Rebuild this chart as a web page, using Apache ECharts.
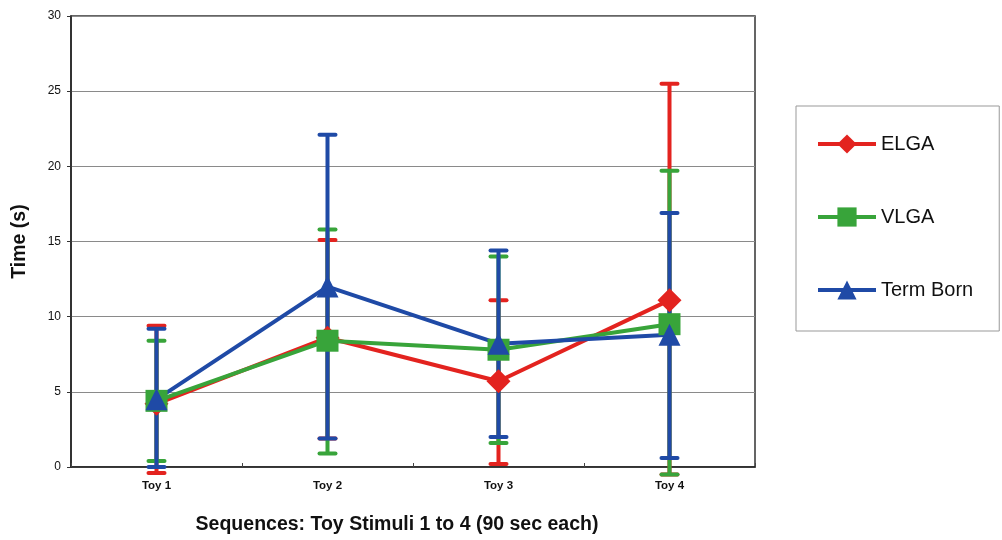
<!DOCTYPE html>
<html><head><meta charset="utf-8">
<script src="https://cdn.jsdelivr.net/npm/echarts@6/dist/echarts.min.js"></script>
<style>html,body{margin:0;padding:0;background:#fff}#c{width:1002px;height:540px}</style>
</head><body><div id="c"></div>
<script>
const categories = ['Toy 1', 'Toy 2', 'Toy 3', 'Toy 4'];
const yTicks = [0, 5, 10, 15, 20, 25, 30];
const elgaMean = [4.2, 8.6, 5.7, 11.1];
const elgaHigh = [9.4, 15.1, 11.1, 25.5];
const elgaLow = [-0.4, 1.9, 0.2, -0.5];
const vlgaMean = [4.4, 8.4, 7.8, 9.5];
const vlgaHigh = [8.4, 15.8, 14.0, 19.7];
const vlgaLow = [0.4, 0.9, 1.6, -0.5];
const termMean = [4.5, 12.0, 8.2, 8.8];
const termHigh = [9.2, 22.1, 14.4, 16.9];
const termLow = [0.0, 1.9, 2.0, 0.6];

const RED = '#e3231f', GREEN = '#38a43a', BLUE = '#1f4aa6';
const FONT = 'Liberation Sans, Arial, sans-serif';

function errSeries(name, color, lows, highs, z) {
  return {
    type: 'custom', name: name, z: z, clip: false,
    encode: { x: 0, y: [1, 2] },
    data: categories.map((c, i) => [i, lows[i], highs[i]]),
    renderItem: function (params, api) {
      const x = api.value(0);
      const lo = api.coord([x, api.value(1)]);
      const hi = api.coord([x, api.value(2)]);
      const hw = 8;
      return {
        type: 'group',
        children: [
          { type: 'line', shape: { x1: lo[0], y1: lo[1], x2: hi[0], y2: hi[1] }, style: { stroke: color, lineWidth: 4 } },
          { type: 'line', shape: { x1: hi[0] - hw, y1: hi[1], x2: hi[0] + hw, y2: hi[1] }, style: { stroke: color, lineWidth: 4, lineCap: 'round' } },
          { type: 'line', shape: { x1: lo[0] - hw, y1: lo[1], x2: lo[0] + hw, y2: lo[1] }, style: { stroke: color, lineWidth: 4, lineCap: 'round' } }
        ]
      };
    }
  };
}

function lineSeries(name, color, symbol, size, data) {
  return {
    type: 'line', name: name, data: data, z: 10,
    symbol: symbol, symbolSize: size, showSymbol: true,
    itemStyle: { color: color, opacity: 1 },
    lineStyle: { color: color, width: 4 },
    emphasis: { disabled: true }
  };
}

const chart = echarts.init(document.getElementById('c'));
chart.setOption({
  animation: false,
  backgroundColor: '#fff',
  grid: { left: 71, right: 247, top: 16, bottom: 67, show: true, borderColor: '#333', borderWidth: 1.5 },
  legend: {
    data: ['ELGA', 'VLGA', 'Term Born'],
    orient: 'vertical', left: 796, top: 106,
    padding: [28, 26, 31, 20], itemGap: 53, itemWidth: 58, itemHeight: 24,
    borderColor: '#999', borderWidth: 1,
    lineStyle: { width: 4 },
    textStyle: { fontSize: 20, color: '#111', fontFamily: FONT }
  },
  xAxis: {
    type: 'category', data: categories, boundaryGap: true,
    name: 'Sequences: Toy Stimuli 1 to 4 (90 sec each)',
    nameLocation: 'middle', nameGap: 48,
    nameTextStyle: { fontSize: 19.5, fontWeight: 'bold', color: '#111', fontFamily: FONT, padding: [0, 32, 0, 0] },
    axisLine: { lineStyle: { color: '#222', width: 1.5 } },
    axisTick: { show: true, inside: true, length: 4, lineStyle: { color: '#444' } },
    axisLabel: { fontSize: 11.5, fontWeight: 'bold', color: '#111', margin: 13, fontFamily: FONT }
  },
  yAxis: {
    type: 'value', min: yTicks[0], max: yTicks[yTicks.length - 1], interval: 5,
    name: 'Time (s)', nameLocation: 'middle', nameGap: 41,
    nameTextStyle: { fontSize: 19.5, fontWeight: 'bold', color: '#111', fontFamily: FONT },
    axisLine: { show: true, lineStyle: { color: '#222', width: 1.5 } },
    axisTick: { show: true, length: 4, lineStyle: { color: '#333' } },
    axisLabel: { fontSize: 12, color: '#111', margin: 10, fontFamily: FONT },
    splitLine: { show: true, lineStyle: { color: '#8a8a8a', width: 1 } }
  },
  series: [
    errSeries('ELGA err', RED, elgaLow, elgaHigh, 3),
    errSeries('VLGA err', GREEN, vlgaLow, vlgaHigh, 4),
    errSeries('Term Born err', BLUE, termLow, termHigh, 5),
    lineSeries('ELGA', RED, 'diamond', 24, elgaMean),
    lineSeries('VLGA', GREEN, 'rect', 22, vlgaMean),
    lineSeries('Term Born', BLUE, 'triangle', 22, termMean)
  ]
});
</script></body></html>
